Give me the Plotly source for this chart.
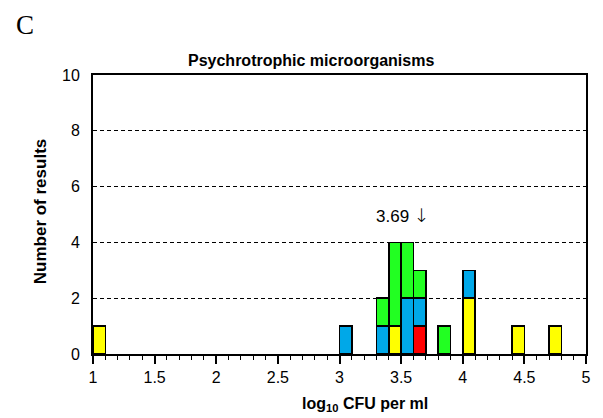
import plotly.graph_objects as go

# Bin lower edges (log10 CFU per ml), bin width 0.1
bins = [1.0, 3.0, 3.3, 3.4, 3.5, 3.6, 3.8, 4.0, 4.4, 4.7]
red = [0, 0, 0, 0, 0, 1, 0, 0, 0, 0]
yellow = [1, 0, 0, 1, 0, 0, 0, 2, 1, 1]
blue = [0, 1, 1, 0, 2, 1, 0, 1, 0, 0]
green = [0, 0, 1, 3, 2, 1, 1, 0, 0, 0]

x_ticks = [1, 1.5, 2, 2.5, 3, 3.5, 4, 4.5, 5]
y_ticks = [0, 2, 4, 6, 8, 10]
median_value = 3.69

width = 0.1
centers = [b + width / 2 for b in bins]

fig = go.Figure()
for vals, col in [(red, "#ff0000"), (yellow, "#ffff00"), (blue, "#00a8e8"), (green, "#22ff22")]:
    fig.add_trace(go.Bar(
        x=centers, y=vals, width=width,
        marker=dict(color=col, line=dict(color="black", width=1.5)),
        showlegend=False,
    ))

font = "Liberation Sans, Arial, sans-serif"
L, R, T, B = 93, 15, 75, 64
PW, PH = 603 - L - R, 418 - T - B


def px(xp):
    return (xp - L) / PW


def py(yp):
    return (418 - B - yp) / PH


fig.update_layout(
    barmode="stack",
    width=603, height=418,
    margin=dict(l=L, r=R, t=T, b=B),
    plot_bgcolor="white", paper_bgcolor="white",
    font=dict(family=font, size=16, color="black"),
    xaxis=dict(
        range=[1, 5], tickvals=x_ticks, ticktext=[f"{v:g}" for v in x_ticks],
        ticks="outside", ticklen=8, tickwidth=1.5, tickcolor="black",
        minor=dict(dtick=0.1, tick0=1, ticks="outside", ticklen=4, tickwidth=1, tickcolor="black"),
        showgrid=False, zeroline=False,
        showline=True, linecolor="black", linewidth=2, mirror=True,
    ),
    yaxis=dict(
        range=[0, 10], tickvals=y_ticks,
        ticks="", ticklabelstandoff=8,
        showgrid=True, gridcolor="black", griddash="4px,3px", gridwidth=1,
        zeroline=False,
        showline=True, linecolor="black", linewidth=2, mirror=True,
    ),
)

# Titles and labels
fig.add_annotation(
    xref="paper", yref="paper", x=px(312), y=py(60),
    text="<b>Psychrotrophic microorganisms</b>", showarrow=False,
    font=dict(size=16), xanchor="center", yanchor="middle",
)
fig.add_annotation(
    xref="paper", yref="paper", x=px(366), y=py(404),
    text="<b>log<sub>10</sub> CFU per ml</b>", showarrow=False,
    font=dict(size=16), xanchor="center", yanchor="middle",
)
fig.add_annotation(
    xref="paper", yref="paper", x=px(40), y=py(212),
    text="<b>Number of results</b>", showarrow=False, textangle=-90,
    font=dict(size=17), xanchor="center", yanchor="middle",
)
fig.add_annotation(
    x=median_value, y=5, xref="x", yref="y",
    text=(f"{median_value} <span style='font-family:DejaVu Sans;"
          f"font-weight:200;font-size:19px'>\u2193</span>"),
    showarrow=False,
    font=dict(size=17), xanchor="right", yanchor="middle", xshift=7,
)
fig.add_annotation(
    xref="paper", yref="paper", x=px(25), y=py(25),
    text="C", showarrow=False,
    font=dict(size=27, family="Liberation Serif, Times New Roman, serif"),
    xanchor="center", yanchor="middle",
)

fig.write_html("out.html")
